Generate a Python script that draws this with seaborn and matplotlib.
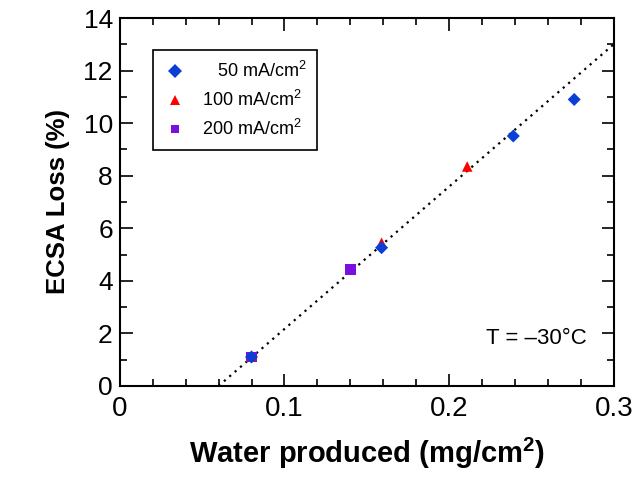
import numpy as np
import pandas as pd
import matplotlib
matplotlib.use("Agg")
import matplotlib.pyplot as plt
import seaborn as sns
from matplotlib.ticker import MultipleLocator

# Data
water_50 = [0.080, 0.159, 0.239, 0.276]
loss_50 = [1.1, 5.26, 9.51, 10.9]
water_100 = [0.080, 0.159, 0.211]
loss_100 = [1.15, 5.45, 8.35]
water_200 = [0.080, 0.140]
loss_200 = [1.1, 4.42]
fit_x = [0.06, 0.30]
fit_y = [0.0, 13.0]
labels = ["50 mA/cm$^2$", "100 mA/cm$^2$", "200 mA/cm$^2$"]
xtick_labels = ["0", "0.1", "0.2", "0.3"]

sns.set_theme(style="ticks")
plt.rcParams['font.family'] = ['Liberation Sans', 'DejaVu Sans']
plt.rcParams['mathtext.fontset'] = 'custom'
plt.rcParams['mathtext.rm'] = 'Liberation Sans'
plt.rcParams['mathtext.bf'] = 'Liberation Sans:bold'
for k in ['text.color', 'axes.labelcolor', 'xtick.color', 'ytick.color',
          'xtick.labelcolor', 'ytick.labelcolor']:
    plt.rcParams[k] = 'black'

df = pd.DataFrame({
    "water": water_50 + water_100 + water_200,
    "loss": loss_50 + loss_100 + loss_200,
    "current": [labels[0]] * len(water_50) + [labels[1]] * len(water_100) + [labels[2]] * len(water_200),
})

fig = plt.figure(figsize=(6.44, 4.8), dpi=100)
ax = fig.add_axes([0.186, 0.196, 0.767, 0.7665])

sns.lineplot(x=fit_x, y=fit_y, ax=ax, color="black", linestyle=(0, (1, 2.2)), linewidth=1.6, zorder=1)

colors = {labels[0]: "#0a3fd6", labels[1]: "#ff0000", labels[2]: "#7a10e0"}
markers = {labels[0]: "D", labels[1]: "^", labels[2]: "s"}
sizes = {labels[0]: 44, labels[1]: 58, labels[2]: 58}
leg_ms = {labels[0]: 7.1, labels[1]: 6.9, labels[2]: 5.5}
handles = {}
for z, lab in zip([4, 3, 2], labels):
    sub = df[df["current"] == lab]
    sns.scatterplot(data=sub, x="water", y="loss", ax=ax, color=colors[lab],
                    marker=markers[lab], s=sizes[lab], edgecolor="none", zorder=z, legend=False)
    handles[lab] = plt.Line2D([], [], linestyle="none", marker=markers[lab], color=colors[lab],
                              markersize=leg_ms[lab], markeredgewidth=0)

ax.set_xlim(0, 0.3)
ax.set_ylim(0, 14)
ax.xaxis.set_minor_locator(MultipleLocator(0.02))
ax.yaxis.set_major_locator(MultipleLocator(2))
ax.yaxis.set_minor_locator(MultipleLocator(1))
ax.set_xticks([0, 0.1, 0.2, 0.3])
ax.set_xticklabels(xtick_labels)
ax.tick_params(which="both", direction="in", top=True, right=True, color="black",
               labelcolor="black", width=1.2)
ax.tick_params(which="major", length=9)
ax.tick_params(which="minor", length=5)
ax.tick_params(axis="x", which="major", labelsize=20, pad=7.5)
ax.tick_params(axis="y", which="major", labelsize=19, pad=5)
for s in ax.spines.values():
    s.set_linewidth(1.5)
    s.set_color("black")

ax.set_xlabel("Water produced (mg/cm$\\mathbf{^2}$)", fontsize=21, fontweight="bold",
              labelpad=10, color="black")
ax.set_ylabel("ECSA Loss (%)", fontsize=18.5, fontweight="bold", labelpad=10, color="black")

leg = ax.legend([handles[l] for l in labels], ["   " + labels[0], labels[1], labels[2]],
                loc="upper left", bbox_to_anchor=(0.0668, 0.913), borderaxespad=0, fontsize=13,
                frameon=True, fancybox=False, edgecolor="black", framealpha=1,
                handletextpad=0.8, borderpad=0.6, labelspacing=0.5, handlelength=1.3)
leg.get_frame().set_linewidth(1.2)
for t in leg.get_texts():
    t.set_color("black")

ax.text(0.945, 0.130, "T = \u201330\u00b0C", transform=ax.transAxes, ha="right", va="center",
        fontsize=16, color="black")

fig.savefig("out.png", dpi=100)
